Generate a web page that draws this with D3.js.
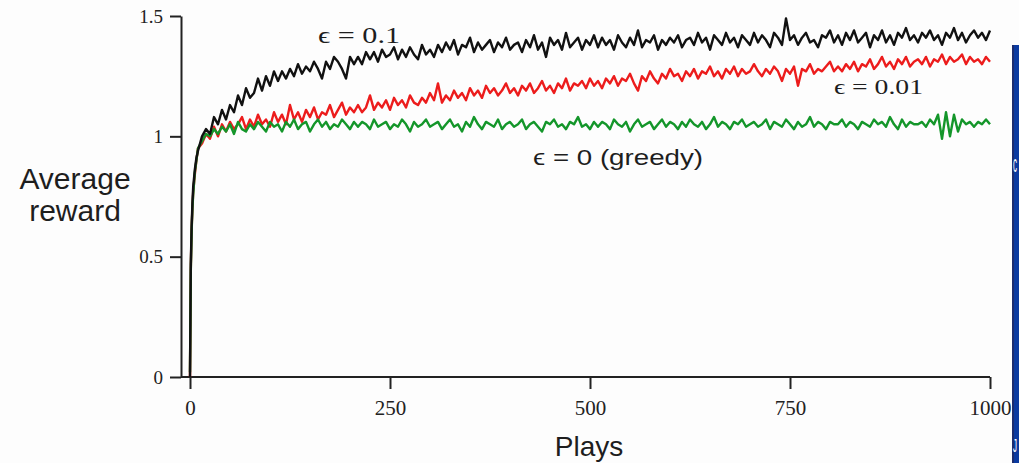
<!DOCTYPE html>
<html>
<head>
<meta charset="utf-8">
<script src="https://cdn.jsdelivr.net/npm/d3@7"></script>
<style>
  body { margin: 0; background: #fdfdfd; overflow: hidden; }
  svg { display: block; }
  .axis .tick text { font-family: "Liberation Serif", "Times New Roman", serif; fill: #222; }
  .sans { font-family: "Liberation Sans", Arial, sans-serif; fill: #1e1e1e; }
  .serif { font-family: "Liberation Serif", "Times New Roman", serif; fill: #1e1e1e; }
</style>
</head>
<body>
<script>
const width = 1019, height = 463;

// plays: dense at the very start, then every 5 plays up to 1000
const plays = [0, 1, 2, 3, 4, 6, 8].concat(d3.range(10, 1001, 5));

// epsilon = 0.1 (black)
const eps01 = [0, 0.47, 0.62, 0.72, 0.79, 0.86, 0.91,
  0.94, 1.00, 1.03, 1.01, 1.08, 1.05, 1.11, 1.07, 1.13, 1.10, 1.17, 1.13, 1.20, 1.16, 1.18, 1.24, 1.19, 1.25, 1.21, 1.27,
  1.23, 1.27, 1.24, 1.28, 1.25, 1.30, 1.26, 1.29, 1.27, 1.31, 1.28, 1.24, 1.31, 1.28, 1.33, 1.31, 1.28, 1.24, 1.33, 1.30,
  1.33, 1.30, 1.35, 1.32, 1.35, 1.31, 1.36, 1.33, 1.34, 1.37, 1.32, 1.36, 1.33, 1.37, 1.34, 1.32, 1.38, 1.34, 1.36, 1.33,
  1.38, 1.35, 1.39, 1.36, 1.40, 1.34, 1.38, 1.37, 1.41, 1.35, 1.39, 1.36, 1.38, 1.40, 1.35, 1.39, 1.37, 1.41, 1.36, 1.38,
  1.39, 1.35, 1.40, 1.37, 1.42, 1.36, 1.39, 1.33, 1.41, 1.38, 1.40, 1.36, 1.43, 1.37, 1.39, 1.41, 1.36, 1.40, 1.38, 1.42,
  1.37, 1.41, 1.38, 1.40, 1.36, 1.42, 1.39, 1.37, 1.41, 1.38, 1.44, 1.37, 1.40, 1.39, 1.42, 1.36, 1.40, 1.38, 1.41, 1.39,
  1.42, 1.37, 1.40, 1.41, 1.38, 1.43, 1.39, 1.41, 1.36, 1.42, 1.40, 1.38, 1.43, 1.39, 1.41, 1.37, 1.42, 1.40, 1.38, 1.43,
  1.39, 1.42, 1.40, 1.37, 1.43, 1.41, 1.38, 1.49, 1.40, 1.42, 1.38, 1.41, 1.43, 1.39, 1.40, 1.37, 1.42, 1.41, 1.44, 1.39,
  1.42, 1.38, 1.43, 1.40, 1.44, 1.39, 1.41, 1.43, 1.37, 1.42, 1.40, 1.44, 1.39, 1.42, 1.38, 1.43, 1.41, 1.45, 1.40, 1.42,
  1.39, 1.43, 1.41, 1.44, 1.40, 1.42, 1.38, 1.43, 1.41, 1.45, 1.40, 1.43, 1.39, 1.42, 1.44, 1.41, 1.43, 1.40, 1.44];

// epsilon = 0.01 (red)
const eps001 = [0, 0.45, 0.61, 0.70, 0.77, 0.84, 0.90,
  0.95, 0.97, 1.01, 0.99, 1.04, 1.00, 1.05, 1.02, 1.06, 1.03, 1.05, 1.08, 1.03, 1.07, 1.04, 1.09, 1.05, 1.07, 1.04, 1.10,
  1.06, 1.09, 1.05, 1.13, 1.07, 1.10, 1.06, 1.11, 1.08, 1.12, 1.07, 1.10, 1.09, 1.13, 1.08, 1.11, 1.14, 1.09, 1.12, 1.10,
  1.13, 1.10, 1.12, 1.17, 1.11, 1.14, 1.12, 1.15, 1.11, 1.16, 1.13, 1.15, 1.12, 1.17, 1.14, 1.13, 1.16, 1.14, 1.18, 1.15,
  1.22, 1.14, 1.17, 1.15, 1.19, 1.16, 1.18, 1.15, 1.20, 1.17, 1.19, 1.16, 1.21, 1.18, 1.20, 1.17, 1.19, 1.22, 1.18, 1.20,
  1.17, 1.21, 1.19, 1.22, 1.18, 1.20, 1.23, 1.19, 1.21, 1.18, 1.22, 1.20, 1.24, 1.19, 1.22, 1.21, 1.23, 1.20, 1.24, 1.21,
  1.23, 1.20, 1.24, 1.22, 1.25, 1.21, 1.24, 1.23, 1.26, 1.22, 1.19, 1.25, 1.23, 1.27, 1.24, 1.22, 1.26, 1.24, 1.28, 1.25,
  1.26, 1.23, 1.27, 1.25, 1.28, 1.24, 1.27, 1.26, 1.29, 1.25, 1.27, 1.24, 1.28, 1.26, 1.29, 1.25, 1.28, 1.26, 1.27, 1.30,
  1.27, 1.25, 1.28, 1.26, 1.29, 1.27, 1.23, 1.28, 1.26, 1.29, 1.21, 1.28, 1.27, 1.30, 1.26, 1.28, 1.27, 1.29, 1.31, 1.27,
  1.29, 1.27, 1.30, 1.28, 1.31, 1.27, 1.30, 1.29, 1.32, 1.28, 1.30, 1.33, 1.29, 1.31, 1.28, 1.32, 1.30, 1.33, 1.29, 1.31,
  1.32, 1.30, 1.33, 1.29, 1.32, 1.31, 1.34, 1.30, 1.33, 1.31, 1.32, 1.34, 1.30, 1.33, 1.31, 1.32, 1.30, 1.33, 1.31];

// epsilon = 0, greedy (green)
const greedy = [0.02, 0.44, 0.60, 0.70, 0.76, 0.85, 0.90,
  0.95, 0.98, 1.01, 1.00, 1.03, 1.01, 1.04, 1.02, 1.05, 1.01, 1.06, 1.03, 1.02, 1.05, 1.03, 1.06, 1.04, 1.02, 1.06, 1.04,
  1.05, 1.02, 1.06, 1.04, 1.07, 1.03, 1.05, 1.06, 1.02, 1.05, 1.07, 1.04, 1.06, 1.03, 1.05, 1.04, 1.07, 1.05, 1.03, 1.06,
  1.04, 1.06, 1.05, 1.03, 1.07, 1.04, 1.05, 1.06, 1.03, 1.05, 1.04, 1.07, 1.05, 1.02, 1.06, 1.04, 1.05, 1.07, 1.04, 1.05,
  1.06, 1.03, 1.05, 1.07, 1.04, 1.05, 1.02, 1.06, 1.04, 1.08, 1.05, 1.03, 1.06, 1.05, 1.04, 1.07, 1.03, 1.05, 1.06, 1.04,
  1.05, 1.07, 1.03, 1.05, 1.06, 1.04, 1.02, 1.06, 1.05, 1.07, 1.04, 1.05, 1.03, 1.06, 1.05, 1.08, 1.04, 1.05, 1.03, 1.06,
  1.04, 1.06, 1.05, 1.03, 1.07, 1.05, 1.04, 1.06, 1.02, 1.05, 1.07, 1.04, 1.05, 1.06, 1.03, 1.05, 1.07, 1.04, 1.06, 1.05,
  1.03, 1.06, 1.04, 1.07, 1.05, 1.04, 1.06, 1.03, 1.05, 1.08, 1.04, 1.06, 1.05, 1.03, 1.06, 1.05, 1.07, 1.04, 1.05, 1.06,
  1.04, 1.05, 1.07, 1.03, 1.06, 1.05, 1.04, 1.07, 1.05, 1.03, 1.06, 1.04, 1.05, 1.08, 1.04, 1.06, 1.05, 1.03, 1.06, 1.05,
  1.05, 1.07, 1.04, 1.06, 1.05, 1.03, 1.06, 1.05, 1.04, 1.07, 1.05, 1.06, 1.04, 1.08, 1.05, 1.03, 1.07, 1.04, 1.06, 1.05,
  1.05, 1.06, 1.04, 1.07, 1.05, 1.09, 0.99, 1.10, 1.00, 1.09, 1.02, 1.07, 1.05, 1.06, 1.04, 1.06, 1.05, 1.07, 1.05];

const yTicks = [0, 0.5, 1, 1.5];
const xTicks = [0, 250, 500, 750, 1000];

const series = [
  { name: "\u03f5 = 0.01", values: eps001, color: "#ec1c1c" },
  { name: "\u03f5 = 0 (greedy)", values: greedy, color: "#14962a" },
  { name: "\u03f5 = 0.1", values: eps01, color: "#111111" }
];

const x = d3.scaleLinear().domain([0, 1000]).range([190, 990]);
const y = d3.scaleLinear().domain([0, 1.5]).range([377, 16]);
const axisX = 181;

const svg = d3.select('body').append('svg')
    .attr('width', width)
    .attr('height', height);

// y axis
const gy = svg.append('g')
    .attr('class', 'axis')
    .attr('transform', `translate(${axisX},0)`)
    .call(d3.axisLeft(y).tickValues(yTicks).tickFormat(d => d).tickSize(11).tickSizeOuter(0).tickPadding(7));
gy.selectAll('.tick text').style('font-size', '19px');

// x axis (ticks only, base line drawn from the y axis)
const gx = svg.append('g')
    .attr('class', 'axis')
    .attr('transform', `translate(0,${y(0)})`)
    .call(d3.axisBottom(x).tickValues(xTicks).tickFormat(d => d).tickSize(12).tickPadding(11));
gx.select('.domain').remove();
gx.selectAll('.tick text').style('font-size', '21px');
gx.append('line')
    .attr('x1', axisX).attr('x2', x.range()[1])
    .attr('stroke', '#222').attr('stroke-width', 2);

svg.selectAll('.axis path, .axis line')
    .attr('stroke', '#222')
    .attr('stroke-width', 2);

// curves
const line = d3.line()
    .x((d, i) => x(plays[i]))
    .y(d => y(d));

svg.selectAll('path.curve')
    .data(series)
    .join('path')
    .attr('class', 'curve')
    .attr('fill', 'none')
    .attr('stroke', d => d.color)
    .attr('stroke-width', 2.4)
    .attr('stroke-linejoin', 'round')
    .attr('d', d => line(d.values));

// curve labels
svg.append('text').attr('class', 'serif')
    .attr('x', 318).attr('y', 43)
    .attr('textLength', 82).attr('lengthAdjust', 'spacingAndGlyphs')
    .style('font-size', '23px')
    .text(series[2].name);

svg.append('text').attr('class', 'serif')
    .attr('x', 834).attr('y', 94)
    .attr('textLength', 89).attr('lengthAdjust', 'spacingAndGlyphs')
    .style('font-size', '20px')
    .text(series[0].name);

svg.append('text').attr('class', 'sans')
    .attr('x', 533).attr('y', 165)
    .attr('textLength', 170).attr('lengthAdjust', 'spacingAndGlyphs')
    .style('font-size', '22px')
    .text(series[1].name);

// axis titles
svg.append('text').attr('class', 'sans')
    .attr('x', 75).attr('y', 189)
    .attr('text-anchor', 'middle')
    .style('font-size', '30px')
    .text('Average');
svg.append('text').attr('class', 'sans')
    .attr('x', 75).attr('y', 221)
    .attr('text-anchor', 'middle')
    .style('font-size', '30px')
    .text('reward');

svg.append('text').attr('class', 'sans')
    .attr('x', 589).attr('y', 456)
    .attr('text-anchor', 'middle')
    .style('font-size', '28px')
    .text('Plays');

// slide edge on the right
svg.append('rect')
    .attr('x', 1012).attr('y', 45)
    .attr('width', 7).attr('height', height - 45)
    .attr('fill', '#0b3aa0');
svg.append('rect')
    .attr('x', 1012).attr('y', 45)
    .attr('width', 2).attr('height', height - 45)
    .attr('fill', '#1c2c6e');
svg.append('text')
    .attr('x', 1013).attr('y', 172)
    .attr('textLength', 4).attr('lengthAdjust', 'spacingAndGlyphs')
    .attr('fill', '#fff')
    .style('font-family', 'Liberation Sans, Arial, sans-serif')
    .style('font-size', '24px')
    .text('c');
svg.append('text')
    .attr('x', 1013).attr('y', 452)
    .attr('textLength', 4).attr('lengthAdjust', 'spacingAndGlyphs')
    .attr('fill', '#fff')
    .style('font-family', 'Liberation Sans, Arial, sans-serif')
    .style('font-size', '18px')
    .text('J');
</script>
</body>
</html>
